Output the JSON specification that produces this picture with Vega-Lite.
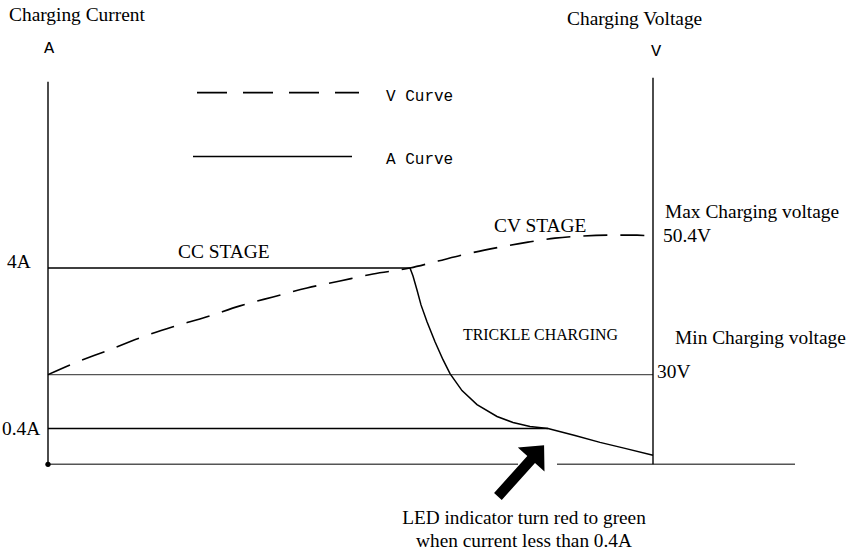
{
  "$schema": "https://vega.github.io/schema/vega-lite/v6.json",
  "width": 850,
  "height": 552,
  "padding": 0,
  "autosize": {"type": "fit", "contains": "padding"},
  "background": "white",
  "datasets": {
    "frame": [
      {"name": "left axis", "tone": "dark", "x": 48, "y": 82, "x2": 48, "y2": 466},
      {"name": "right axis", "tone": "dark", "x": 653, "y": 78, "x2": 653, "y2": 466},
      {"name": "base left", "tone": "grey", "x": 48, "y": 466, "x2": 518, "y2": 466},
      {"name": "base right", "tone": "grey", "x": 557, "y": 466, "x2": 795, "y2": 466},
      {"name": "min voltage", "tone": "grey", "x": 48, "y": 376, "x2": 653, "y2": 376},
      {"name": "0.4A", "tone": "dark", "x": 48, "y": 430, "x2": 548, "y2": 430},
      {"name": "legend A", "tone": "dark", "x": 193, "y": 157, "x2": 352, "y2": 157}
    ],
    "legendDash": [
      {"x": 197, "y": 93, "x2": 359, "y2": 93}
    ],
    "aCurve": [
      {"x": 48, "y": 269}, {"x": 410, "y": 269}, {"x": 413, "y": 277},
      {"x": 417, "y": 291}, {"x": 421, "y": 306}, {"x": 427, "y": 323},
      {"x": 435, "y": 343}, {"x": 443, "y": 361}, {"x": 450, "y": 375},
      {"x": 462, "y": 392}, {"x": 477, "y": 406}, {"x": 497, "y": 418},
      {"x": 513, "y": 424}, {"x": 530, "y": 428}, {"x": 548, "y": 430},
      {"x": 575, "y": 437}, {"x": 600, "y": 444}, {"x": 625, "y": 450},
      {"x": 653, "y": 457}
    ],
    "vCurve": [
      {"x": 48, "y": 376}, {"x": 73, "y": 365}, {"x": 107, "y": 352},
      {"x": 140, "y": 339}, {"x": 173, "y": 328}, {"x": 207, "y": 318},
      {"x": 240, "y": 307}, {"x": 273, "y": 298}, {"x": 307, "y": 289},
      {"x": 340, "y": 282}, {"x": 373, "y": 275}, {"x": 410, "y": 269},
      {"x": 438, "y": 262}, {"x": 466, "y": 255}, {"x": 500, "y": 248},
      {"x": 528, "y": 243}, {"x": 555, "y": 239}, {"x": 580, "y": 237},
      {"x": 610, "y": 236}, {"x": 637, "y": 236}, {"x": 652, "y": 237}
    ],
    "labels": [
      {"label": "Charging Current", "kind": "serif", "x": 9, "y": 15},
      {"label": "Charging Voltage", "kind": "serif", "x": 567, "y": 19},
      {"label": "4A", "kind": "serif", "x": 7, "y": 263},
      {"label": "CC STAGE", "kind": "serif", "x": 178, "y": 253},
      {"label": "CV STAGE", "kind": "serif", "x": 494, "y": 227},
      {"label": "Max Charging voltage", "kind": "serif", "x": 665, "y": 213},
      {"label": "50.4V", "kind": "serif", "x": 663, "y": 237},
      {"label": "Min Charging voltage", "kind": "serif", "x": 675, "y": 339},
      {"label": "30V", "kind": "serif", "x": 657, "y": 373},
      {"label": "0.4A", "kind": "serif", "x": 2, "y": 431},
      {"label": "TRICKLE CHARGING", "kind": "small", "x": 463, "y": 336},
      {"label": "LED indicator turn red to green", "kind": "note", "x": 524, "y": 520},
      {"label": "when current less than 0.4A", "kind": "note", "x": 524, "y": 543},
      {"label": "A", "kind": "unit", "x": 49, "y": 48},
      {"label": "V", "kind": "unit", "x": 656, "y": 51},
      {"label": "V Curve", "kind": "mono", "x": 386, "y": 96},
      {"label": "A Curve", "kind": "mono", "x": 386, "y": 160}
    ],
    "origin": [{"x": 48, "y": 466}],
    "arrow": [{"x": 521, "y": 472.5}]
  },
  "encoding": {
    "x": {"field": "x", "type": "quantitative", "scale": {"domain": [0, 850], "nice": false, "zero": false}, "axis": null},
    "y": {"field": "y", "type": "quantitative", "scale": {"domain": [0, 552], "nice": false, "zero": false, "reverse": true}, "axis": null}
  },
  "layer": [
    {
      "data": {"name": "frame"},
      "transform": [{"filter": "datum.tone == 'grey'"}],
      "mark": {"type": "rule", "color": "#555555", "strokeWidth": 1.4},
      "encoding": {"x2": {"field": "x2"}, "y2": {"field": "y2"}}
    },
    {
      "data": {"name": "frame"},
      "transform": [{"filter": "datum.tone == 'dark'"}],
      "mark": {"type": "rule", "color": "black", "strokeWidth": 1.4},
      "encoding": {"x2": {"field": "x2"}, "y2": {"field": "y2"}}
    },
    {
      "data": {"name": "legendDash"},
      "mark": {"type": "rule", "color": "black", "strokeWidth": 1.6, "strokeDash": [30, 16]},
      "encoding": {"x2": {"field": "x2"}, "y2": {"field": "y2"}}
    },
    {
      "data": {"name": "vCurve"},
      "mark": {"type": "line", "color": "black", "strokeWidth": 1.6, "strokeDash": [24, 13], "interpolate": "monotone"},
      "encoding": {"order": {"field": "x", "type": "quantitative"}}
    },
    {
      "data": {"name": "aCurve"},
      "mark": {"type": "line", "color": "black", "strokeWidth": 1.5, "interpolate": "linear"},
      "encoding": {"order": {"value": 0}}
    },
    {
      "data": {"name": "origin"},
      "mark": {"type": "point", "filled": true, "color": "black", "size": 28, "opacity": 1}
    },
    {
      "data": {"name": "arrow"},
      "mark": {
        "type": "point",
        "filled": true,
        "color": "black",
        "opacity": 1,
        "shape": "M0,-1 L0.52,-0.44 L0.15,-0.44 L0.15,1 L-0.15,1 L-0.15,-0.44 L-0.52,-0.44 Z",
        "size": 4761,
        "angle": 42
      }
    },
    {
      "data": {"name": "labels"},
      "transform": [{"filter": "datum.kind == 'serif'"}],
      "mark": {"type": "text", "font": "Liberation Serif", "fontSize": 19.4, "align": "left", "baseline": "middle", "color": "black"},
      "encoding": {"text": {"field": "label"}}
    },
    {
      "data": {"name": "labels"},
      "transform": [{"filter": "datum.kind == 'small'"}],
      "mark": {"type": "text", "font": "Liberation Serif", "fontSize": 15.9, "align": "left", "baseline": "middle", "color": "black"},
      "encoding": {"text": {"field": "label"}}
    },
    {
      "data": {"name": "labels"},
      "transform": [{"filter": "datum.kind == 'note'"}],
      "mark": {"type": "text", "font": "Liberation Serif", "fontSize": 19.3, "align": "center", "baseline": "middle", "color": "black"},
      "encoding": {"text": {"field": "label"}}
    },
    {
      "data": {"name": "labels"},
      "transform": [{"filter": "datum.kind == 'unit'"}],
      "mark": {"type": "text", "font": "Liberation Mono", "fontSize": 17, "align": "center", "baseline": "middle", "color": "black"},
      "encoding": {"text": {"field": "label"}}
    },
    {
      "data": {"name": "labels"},
      "transform": [{"filter": "datum.kind == 'mono'"}],
      "mark": {"type": "text", "font": "Liberation Mono", "fontSize": 16, "align": "left", "baseline": "middle", "color": "black"},
      "encoding": {"text": {"field": "label"}}
    }
  ],
  "config": {
    "view": {"stroke": null}
  }
}
